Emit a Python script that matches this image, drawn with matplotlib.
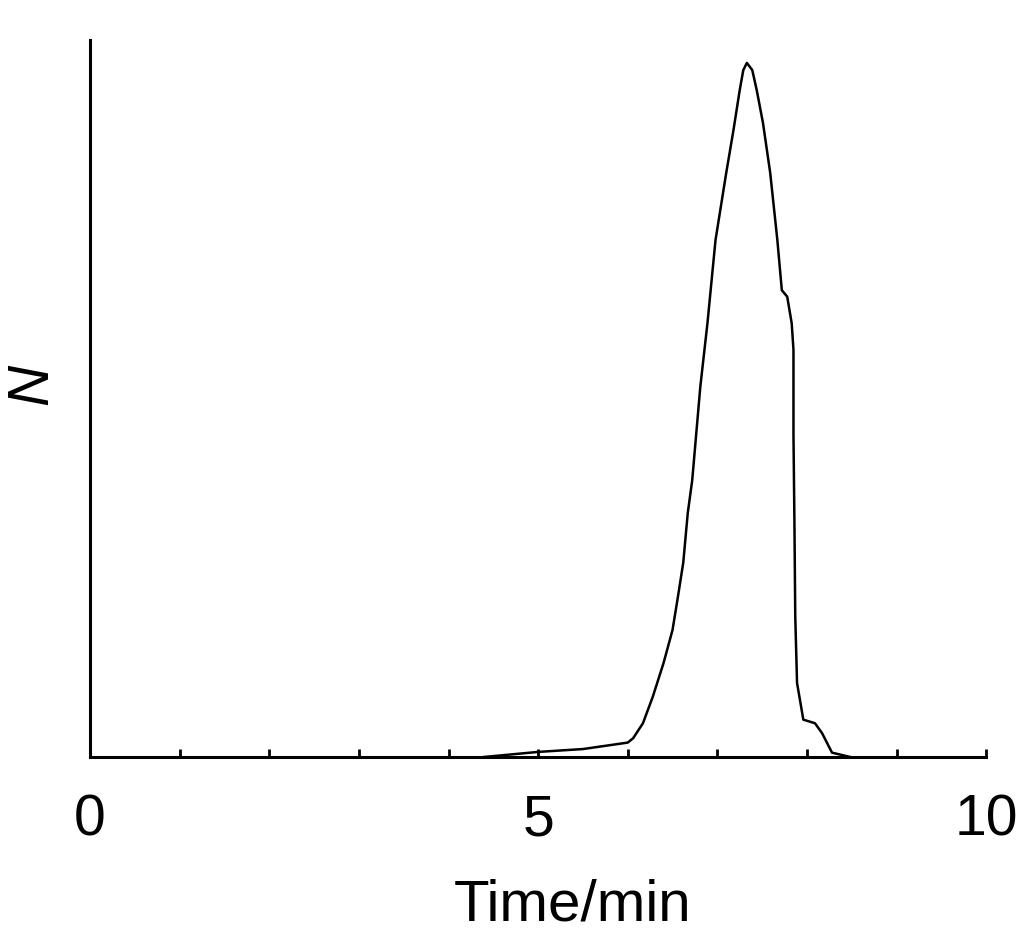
import matplotlib.pyplot as plt

# chromatogram trace
time_min = [4.40, 5.00, 5.50, 6.00, 6.06, 6.17, 6.28, 6.40, 6.50, 6.56, 6.62, 6.67,
            6.72, 6.81, 6.89, 6.98, 7.10, 7.18, 7.25, 7.29, 7.33, 7.39, 7.44, 7.51,
            7.59, 7.67, 7.72, 7.78, 7.83, 7.85, 7.85, 7.86, 7.87, 7.89, 7.96, 8.09,
            8.17, 8.28, 8.48]
signal = [0.000, 0.007, 0.011, 0.020, 0.026, 0.047, 0.084, 0.131, 0.177, 0.223, 0.271, 0.340,
          0.386, 0.516, 0.605, 0.721, 0.815, 0.874, 0.930, 0.958, 0.968, 0.958, 0.930, 0.884,
          0.815, 0.721, 0.651, 0.642, 0.605, 0.568, 0.450, 0.335, 0.195, 0.103, 0.052, 0.047,
          0.033, 0.006, 0.000]

x_ticks = list(range(0, 11))
x_labels = ["0", "", "", "", "", "5", "", "", "", "", "10"]

plt.rcParams['font.family'] = ['Liberation Sans', 'DejaVu Sans']

fig = plt.figure(figsize=(10.24, 9.47), dpi=100)
ax = fig.add_axes([0.088, 0.2007, 0.875, 0.7571])

ax.plot(time_min, signal, color='black', linewidth=1.8)

ax.set_xlim(0, 10)
ax.set_ylim(0, 1)
ax.set_xticks(x_ticks)
ax.set_xticklabels(x_labels)
ax.set_yticks([])
ax.tick_params(axis='x', direction='in', length=6, width=2, labelsize=41, pad=26)

for side in ['top', 'right']:
    ax.spines[side].set_visible(False)
for side in ['left', 'bottom']:
    ax.spines[side].set_linewidth(2.2)

ax.set_xlabel("Time/min", fontsize=42)
ax.xaxis.set_label_coords(0.538, -0.169)
ax.set_ylabel("N", fontsize=41, style='italic')
ax.yaxis.set_label_coords(-0.034, 0.52)

fig.savefig("out.png", dpi=100)
